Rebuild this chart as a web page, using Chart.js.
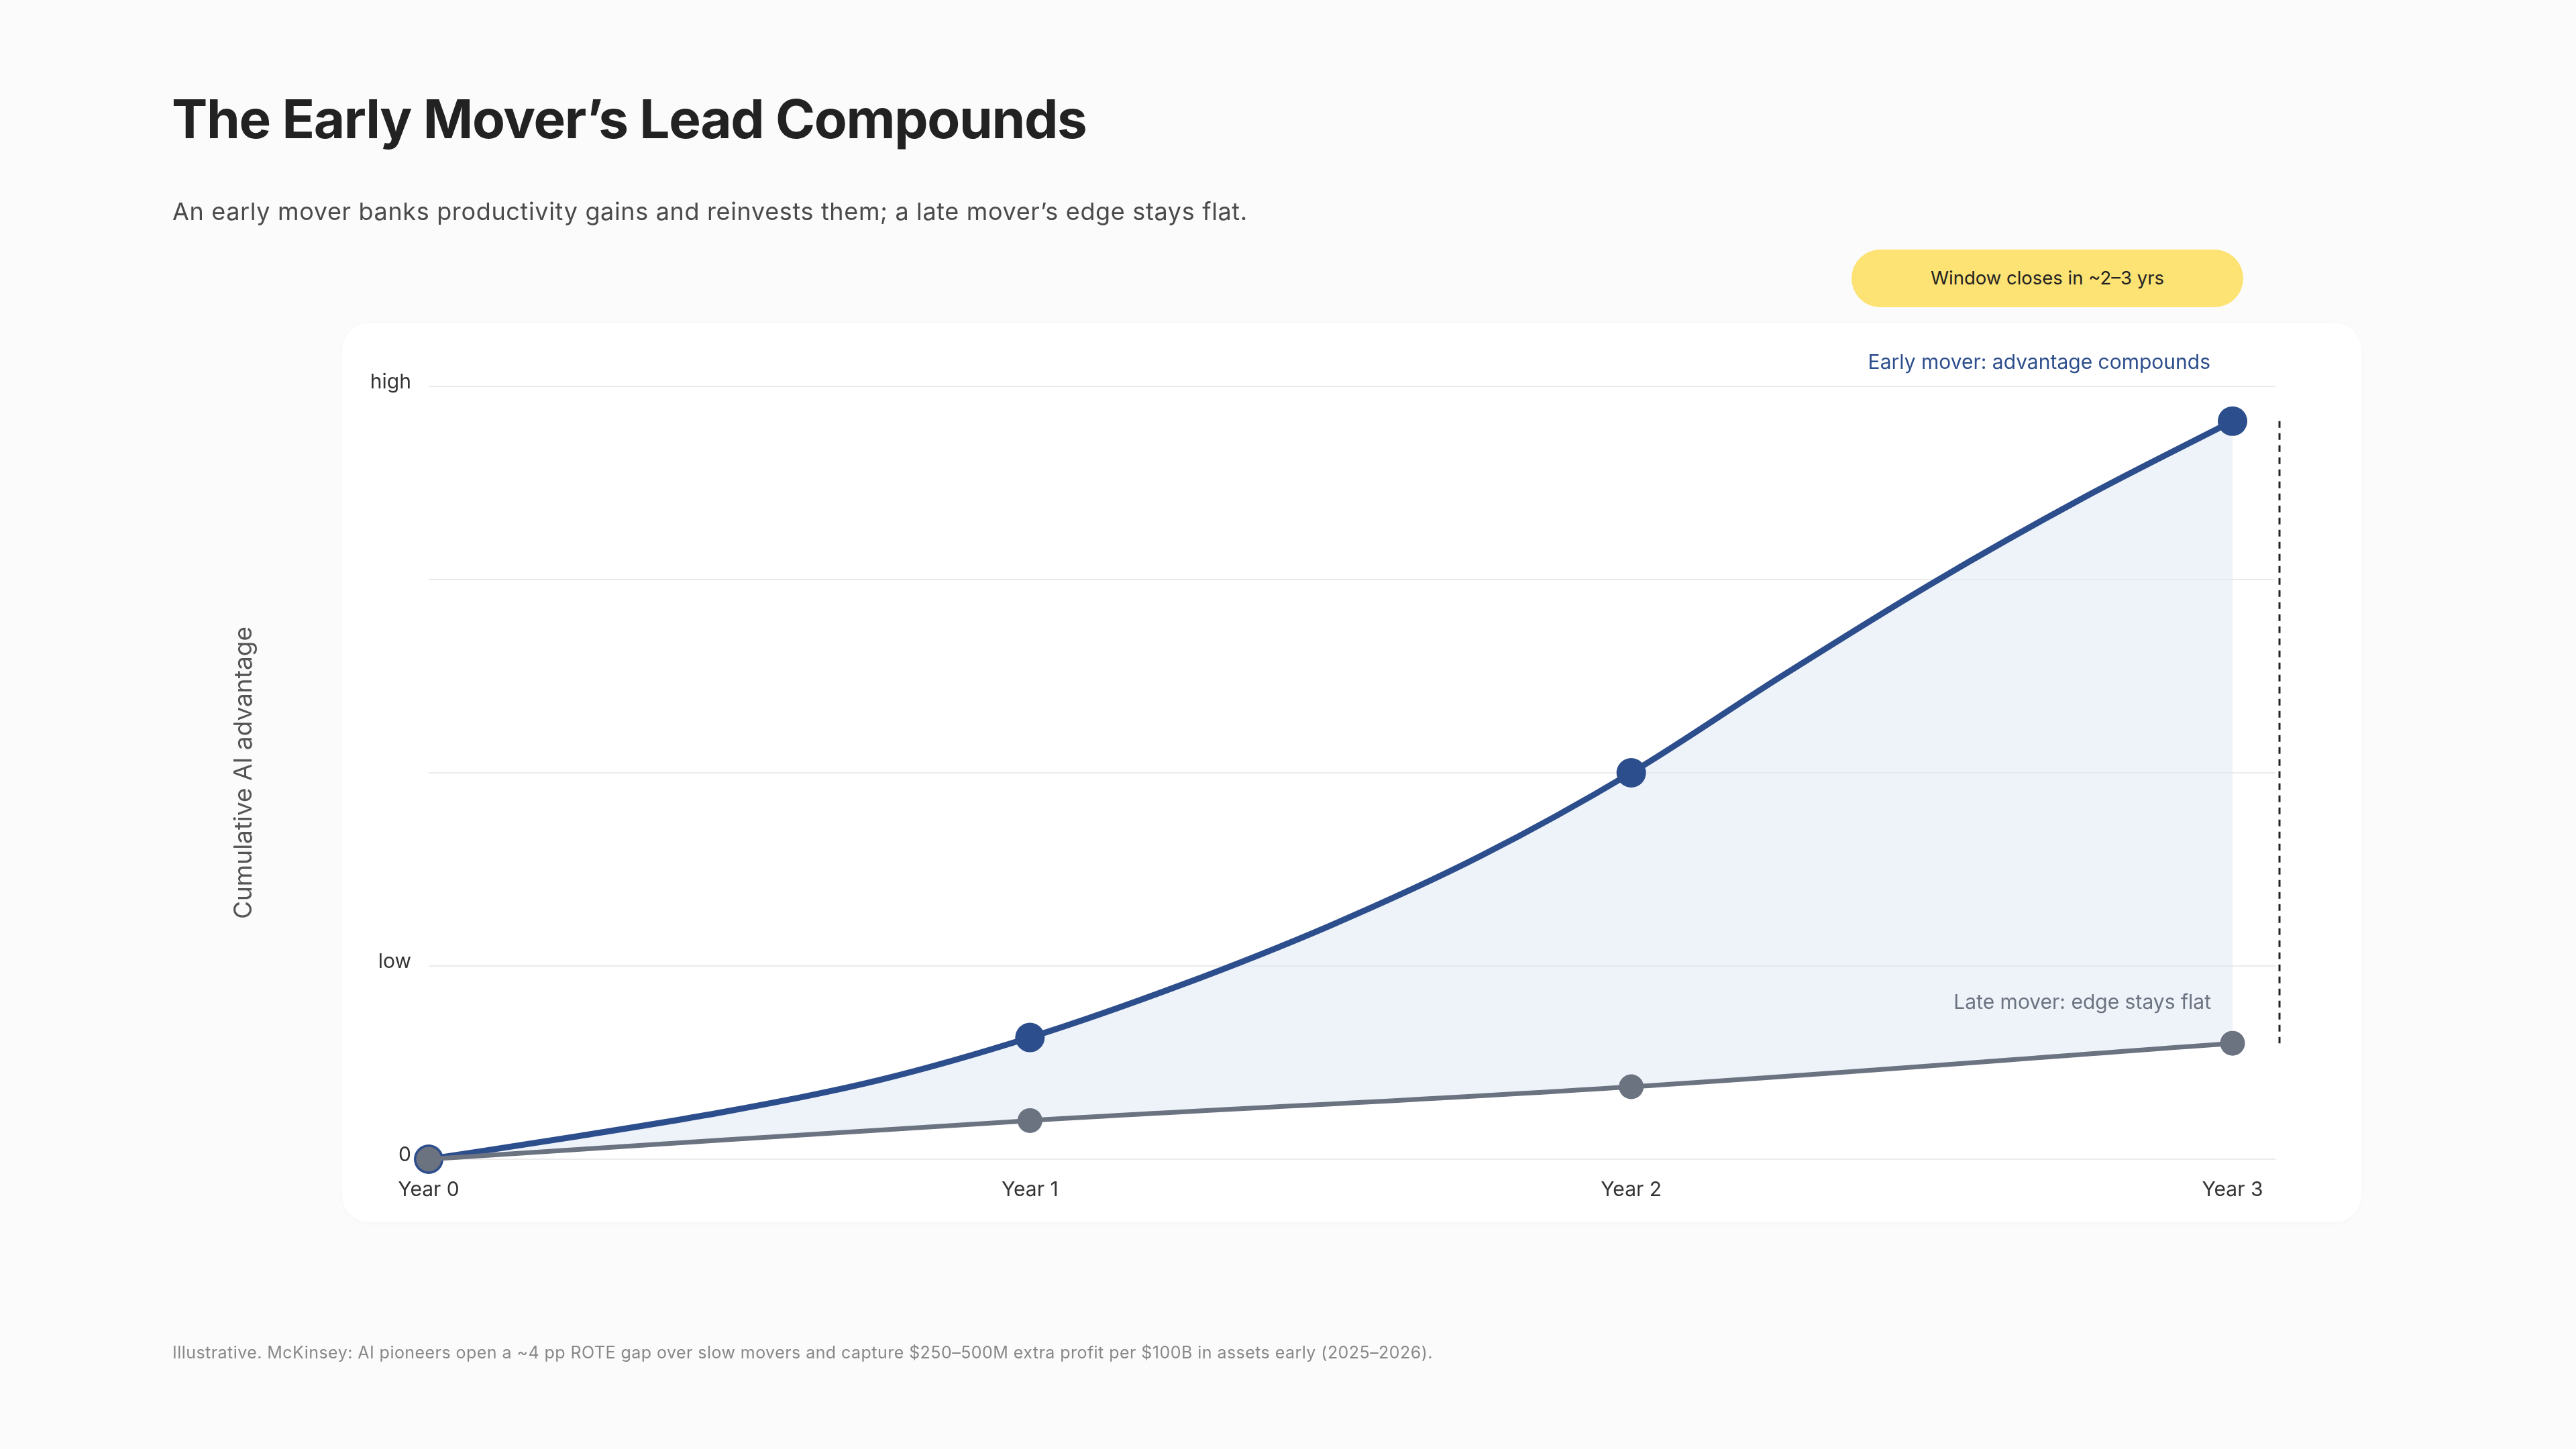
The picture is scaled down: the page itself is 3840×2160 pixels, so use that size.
<!DOCTYPE html>
<html>
<head>
<meta charset="utf-8">
<script src="https://cdn.jsdelivr.net/npm/chart.js@4.4.1/dist/chart.umd.min.js"></script>
<style>
  html, body { margin:0; padding:0; width:3840px; height:2160px; background:#FBFBFB; overflow:hidden; font-family: Inter, "Noto Sans", sans-serif; }
  .abs { position:absolute; white-space:nowrap; line-height:1; }
  #card { position:absolute; left:510px; top:482px; width:3010px; height:1340px; background:#FFFFFF; border-radius:40px; box-shadow: 0 2px 10px rgba(0,0,0,0.025); }
  #title { left:256px; top:137px; font-size:80px; font-weight:700; color:#222222; letter-spacing:-1.35px; }
  #subtitle { left:257px; top:297px; font-size:36px; font-weight:400; color:#4A4A4A; letter-spacing:0.65px; }
  #pill { left:2760px; top:372px; width:584px; height:86px; border-radius:43px; background:#FDE274; color:#222; font-size:27.5px; display:flex; align-items:center; justify-content:center; }
  #earlyLbl { right:545px; top:524px; font-size:30px; color:#2D4E8C; }
  #lateLbl { right:544px; top:1478px; font-size:30px; color:#6B7280; }
  #foot { left:257px; top:2004px; font-size:25px; color:#888888; letter-spacing:0.45px; }
  #wrap { position:absolute; left:0; top:0; width:3840px; height:2160px; }
</style>
</head>
<body>
<div id="card"></div>
<div id="wrap"><canvas id="c" width="3840" height="2160"></canvas></div>
<div class="abs" id="title">The Early Mover’s Lead Compounds</div>
<div class="abs" id="subtitle">An early mover banks productivity gains and reinvests them; a late mover’s edge stays flat.</div>
<div class="abs" id="pill">Window closes in ~2–3 yrs</div>
<div class="abs" id="earlyLbl">Early mover: advantage compounds</div>
<div class="abs" id="lateLbl">Late mover: edge stays flat</div>
<div class="abs" id="foot">Illustrative. McKinsey: AI pioneers open a ~4 pp ROTE gap over slow movers and capture $250–500M extra profit per $100B in assets early (2025–2026).</div>
<script>
// ---- data ----
const categories = ['Year 0', 'Year 1', 'Year 2', 'Year 3'];
// early-mover curve, every quarter year (markers at whole years)
const earlyYears = [0, 0.25, 0.5, 0.75, 1, 1.25, 1.5, 1.75, 2, 2.25, 2.5, 2.75, 3];
const earlyMover = [0, 0.12, 0.25, 0.41, 0.63, 0.90, 1.21, 1.57, 2.0, 2.50, 2.98, 3.42, 3.82];
// late-mover line, one value per year
const lateYears = [0, 1, 2, 3];
const lateMover = [0, 0.2, 0.375, 0.6];
const yTickLabels = ['0', 'low', '', '', 'high'];
const yAxisTitle = 'Cumulative AI advantage';

const BLUE = '#2D4E8C';
const GRAY = '#6B7280';

const bracket = {
  id: 'bracket',
  afterDatasetsDraw(chart) {
    const {ctx, chartArea, scales} = chart;
    const x = chartArea.right + 6;
    const y1 = scales.y.getPixelForValue(earlyMover[earlyMover.length - 1]);
    const y2 = scales.y.getPixelForValue(lateMover[lateMover.length - 1]);
    ctx.save();
    ctx.strokeStyle = '#222222';
    ctx.lineWidth = 3;
    ctx.setLineDash([10, 8]);
    ctx.beginPath();
    ctx.moveTo(x, y1);
    ctx.lineTo(x, y2);
    ctx.stroke();
    ctx.restore();
  }
};

const wholeYearOnly = (r) => (ctx) => (Number.isInteger(ctx.raw && ctx.raw.x) ? r : 0);

new Chart(document.getElementById('c'), {
  type: 'line',
  data: {
    datasets: [
      {
        label: 'Early mover',
        data: earlyMover.map((v, i) => ({x: earlyYears[i], y: v})),
        borderColor: BLUE,
        backgroundColor: 'rgba(222,231,246,0.5)',
        borderWidth: 9,
        pointRadius: wholeYearOnly(22),
        pointHoverRadius: wholeYearOnly(22),
        pointBackgroundColor: BLUE,
        pointBorderWidth: 0,
        cubicInterpolationMode: 'monotone',
        fill: '+1',
        clip: false,
        order: 1
      },
      {
        label: 'Late mover',
        data: lateMover.map((v, i) => ({x: lateYears[i], y: v})),
        borderColor: GRAY,
        backgroundColor: GRAY,
        borderWidth: 7,
        pointRadius: 18.5,
        pointBackgroundColor: GRAY,
        pointBorderWidth: 0,
        tension: 0.4,
        fill: false,
        clip: false,
        order: 0
      }
    ]
  },
  options: {
    responsive: false,
    animation: false,
    devicePixelRatio: 1,
    layout: { padding: { left: 338, top: 576, right: 448, bottom: 352 } },
    plugins: {
      legend: { display: false },
      tooltip: { enabled: false },
      filler: { propagate: false }
    },
    scales: {
      x: {
        type: 'linear',
        min: 0,
        max: 3.0714,
        afterBuildTicks: (s) => { s.ticks = categories.map((_, i) => ({value: i})); },
        afterFit: (s) => { s.height = 80; },
        grid: { display: false, drawTicks: false },
        border: { display: false },
        ticks: {
          padding: 28,
          color: '#333333',
          font: { family: 'Inter', size: 30 },
          callback: (v) => categories[v],
          maxRotation: 0
        }
      },
      y: {
        min: 0,
        max: 4,
        afterFit: (s) => { s.width = 301; },
        grid: { color: '#EBEBED', lineWidth: 2, drawTicks: false },
        border: { display: false },
        ticks: {
          stepSize: 1,
          padding: 26,
          labelOffset: -6,
          color: '#333333',
          font: { family: 'Inter', size: 30 },
          callback: (v) => yTickLabels[v]
        },
        title: {
          display: true,
          text: yAxisTitle,
          color: '#555555',
          font: { family: 'Inter', size: 37 }
        }
      }
    }
  },
  plugins: [bracket]
});
</script>
</body>
</html>
